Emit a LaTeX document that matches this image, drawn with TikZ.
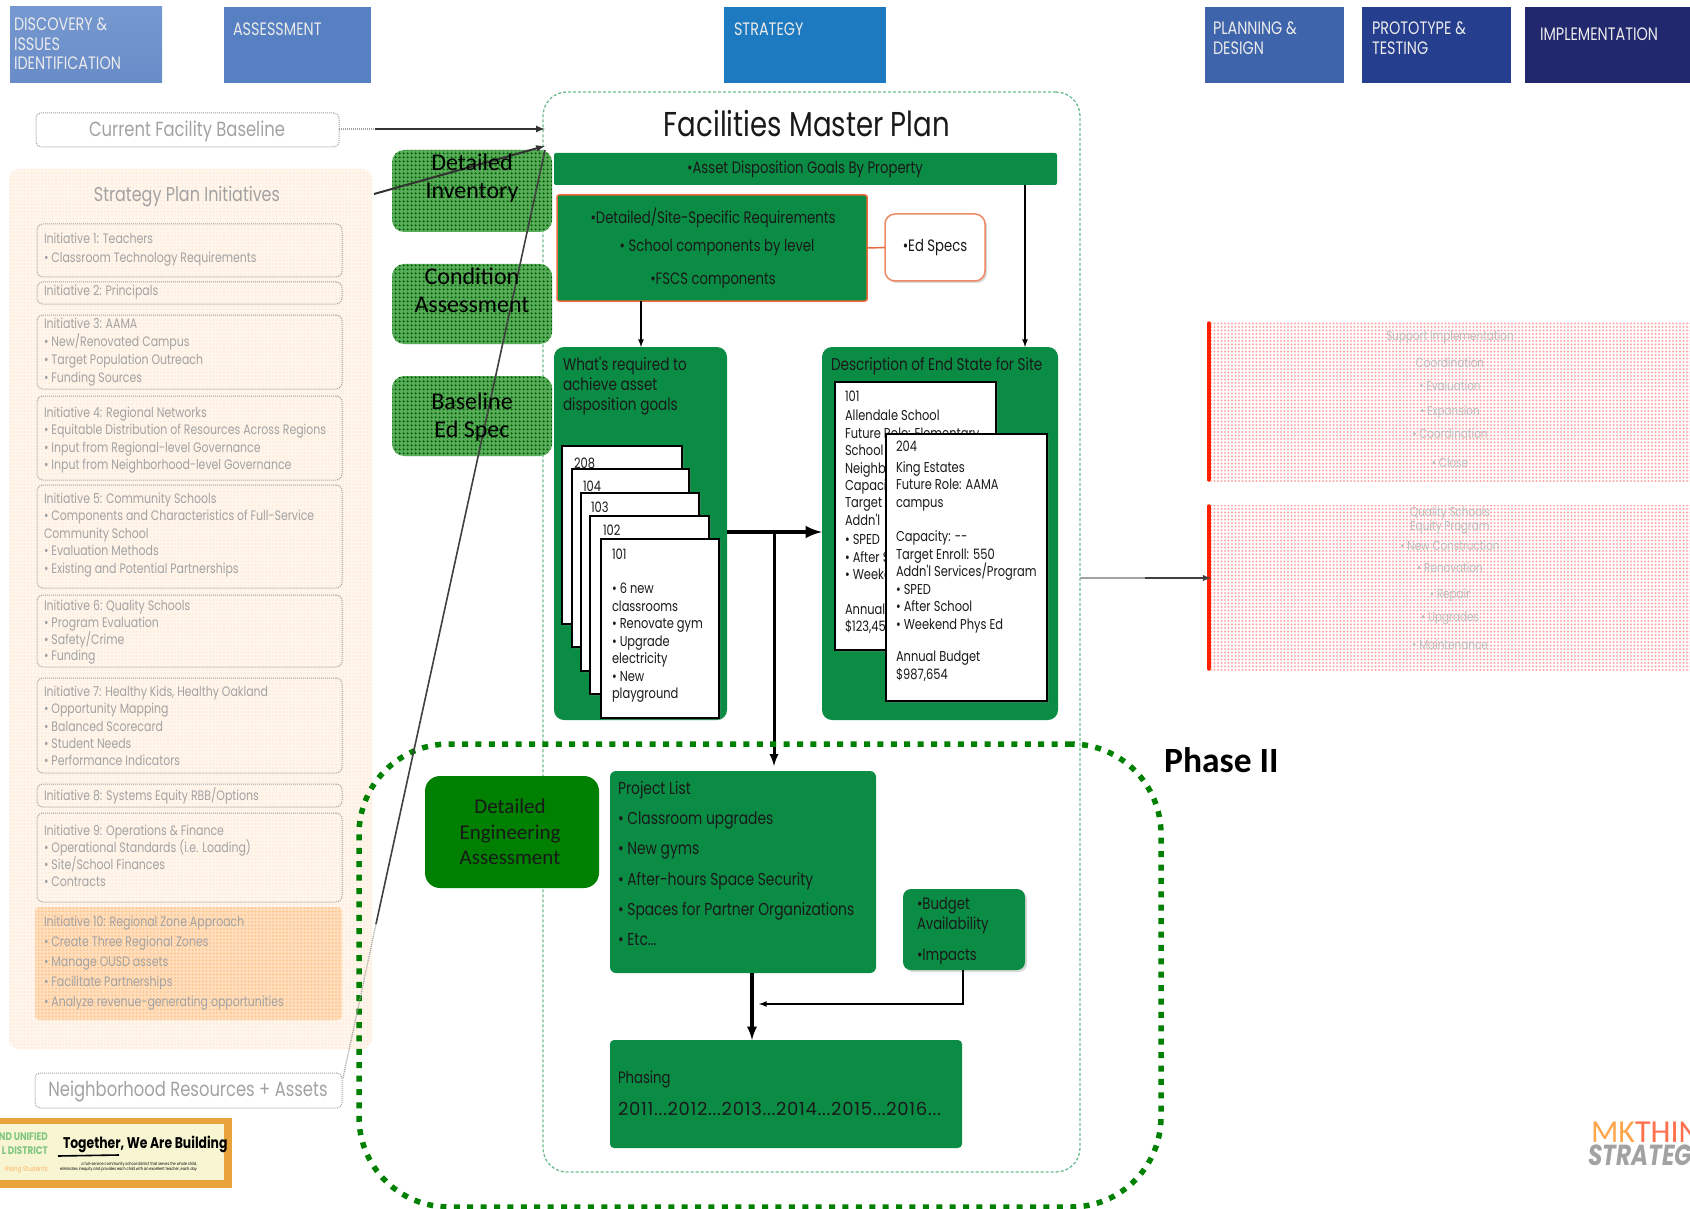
\documentclass[tikz,border=0pt]{standalone}
\usepackage{fontspec}
\usetikzlibrary{shadows,patterns.meta}
\newfontfamily\futura[FakeStretch=0.8]{Poppins}
\newfontfamily\futwide[LetterSpace=4]{Poppins}
\newfontfamily\calib{Carlito}
\newcommand{\fs}[2]{\fontsize{#1}{#2}\selectfont}
\definecolor{grn}{HTML}{0B8C45}
\definecolor{dkgrn}{HTML}{008000}
\definecolor{org}{HTML}{EA6A3E}
\definecolor{fade}{HTML}{A2A2A2}
\tikzset{
  sq/.style={anchor=north west,inner sep=0pt,outer sep=0pt},
  head/.style={sq,text=white!92!black,font=\futura\fs{18}{19.5},align=left},
  panel/.style={sq,fill=grn,rounded corners=10pt},
  card/.style={sq,fill=white,draw=black,line width=1.2pt,drop shadow={opacity=.3,shadow xshift=2pt,shadow yshift=-2pt}},
  cardtxt/.style={sq,align=left,text=black!90,font=\futura\fs{14.3}{17.5}},
  grntxt/.style={sq,align=left,text=black!90,font=\futura\fs{#1}{20}},
  ctr/.style={inner sep=0pt,text=black!90,font=\futura\fs{16.5}{20}},
  initbox/.style={sq,draw=fade,line width=1pt,dash pattern=on 1pt off 1pt,rounded corners=6pt},
  initxt/.style={sq,align=left,text=fade,font=\futura\fs{13.7}{#1}},
  stipgrn/.style={sq,rounded corners=12pt,preaction={fill=green!50!black!65},pattern={Dots[distance=4pt,radius=1.5pt]},pattern color=green!38!black},
  stiptxt/.style={inner sep=0pt,text=black,font=\calib\fs{24}{28},align=center},
  pinktxt/.style={inner sep=0pt,text=fade!70,font=\futura\fs{13}{16},align=center},
  faded/.style={draw=fade,line width=1.3pt,dash pattern=on 1pt off 1pt}
}
\begin{document}
\begin{tikzpicture}[x=1pt,y=-1pt,>=latex]
\useasboundingbox (0,0) rectangle (1690,1209);

% headers
\node[sq,minimum width=152pt,minimum height=76pt,top color={rgb,255:red,118;green,152;blue,208},bottom color={rgb,255:red,104;green,140;blue,200}] (discovery) at (10,7) {};
\node[sq,minimum width=147pt,minimum height=76pt,fill={rgb,255:red,86;green,128;blue,194}] (assess) at (224,7) {};
\node[sq,minimum width=162pt,minimum height=76pt,fill={rgb,255:red,30;green,122;blue,192}] (strategy) at (724,7) {};
\node[sq,minimum width=139pt,minimum height=76pt,fill={rgb,255:red,62;green,100;blue,172}] (planning) at (1205,7) {};
\node[sq,minimum width=149pt,minimum height=76pt,fill={rgb,255:red,38;green,62;blue,142}] (proto) at (1362,7) {};
\node[sq,minimum width=165pt,minimum height=76pt,fill={rgb,255:red,34;green,40;blue,110}] (implement) at (1525,7) {};
\node[head] (discoverytxt) at (14,18) {DISCOVERY \&\\ISSUES\\IDENTIFICATION};
\node[head] (assesstxt) at (233,23) {ASSESSMENT};
\node[head] (strategytxt) at (734,23) {STRATEGY};
\node[head] (planningtxt) at (1213,22) {PLANNING \&\\DESIGN};
\node[head] (prototxt) at (1372,22) {PROTOTYPE \&\\TESTING};
\node[head] (implementtxt) at (1540,28) {IMPLEMENTATION};

% left column
\node[sq,minimum width=303pt,minimum height=34pt,draw=fade,line width=1pt,dash pattern=on 1pt off 1pt,rounded corners=5pt] (baseline) at (36,113) {};
\node[text=fade,font=\futura\fs{20.5}{22},inner sep=0pt] (baselinetxt) at (187,131) {Current Facility Baseline};
\node[sq,minimum width=363pt,minimum height=880pt,rounded corners=10pt,preaction={fill=orange!7},pattern={Dots[distance=3.5pt,radius=1.2pt]},pattern color=orange!14] (initiatives) at (9,169) {};
\node[text=fade,font=\futura\fs{20}{22},inner sep=0pt] (initiativestxt) at (187,197) {Strategy Plan Initiatives};

\node[initbox,minimum width=305pt,minimum height=53pt] (init1) at (37,224) {};
\node[initbox,minimum width=305pt,minimum height=22pt] (init2) at (37,282) {};
\node[initbox,minimum width=305pt,minimum height=74pt] (init3) at (37,315) {};
\node[initbox,minimum width=305pt,minimum height=84pt] (init4) at (37,396) {};
\node[initbox,minimum width=305pt,minimum height=103pt] (init5) at (37,485) {};
\node[initbox,minimum width=305pt,minimum height=72pt] (init6) at (37,595) {};
\node[initbox,minimum width=305pt,minimum height=95pt] (init7) at (37,678) {};
\node[initbox,minimum width=305pt,minimum height=23pt] (init8) at (37,784) {};
\node[initbox,minimum width=305pt,minimum height=89pt] (init9) at (37,813) {};
\node[sq,minimum width=307pt,minimum height=113pt,rounded corners=4pt,preaction={fill=orange!25},pattern={Dots[distance=3.5pt,radius=1.2pt]},pattern color=orange!45] (init10) at (35,907) {};

\node[initxt=19] (init1txt) at (44,233) {Initiative 1: Teachers\\• Classroom Technology Requirements};
\node[initxt=17] (init2txt) at (44,285) {Initiative 2: Principals};
\node[initxt=18] (init3txt) at (44,318) {Initiative 3: AAMA\\• New/Renovated Campus\\• Target Population Outreach\\• Funding Sources};
\node[initxt=17.5] (init4txt) at (44,407) {Initiative 4: Regional Networks\\• Equitable Distribution of Resources Across Regions\\• Input from Regional-level Governance\\• Input from Neighborhood-level Governance};
\node[initxt=17.5] (init5txt) at (44,493) {Initiative 5: Community Schools\\• Components and Characteristics of Full-Service\\Community School\\• Evaluation Methods\\• Existing and Potential Partnerships};
\node[initxt=16.8] (init6txt) at (44,600) {Initiative 6: Quality Schools\\• Program Evaluation\\• Safety/Crime\\• Funding};
\node[initxt=17.3] (init7txt) at (44,686) {Initiative 7: Healthy Kids, Healthy Oakland\\• Opportunity Mapping\\• Balanced Scorecard\\• Student Needs\\• Performance Indicators};
\node[initxt=17] (init8txt) at (44,788) {Initiative 8: Systems Equity RBB/Options};
\node[initxt=17] (init9txt) at (44,825) {Initiative 9: Operations \& Finance\\• Operational Standards (i.e. Loading)\\• Site/School Finances\\• Contracts};
\node[initxt=20] (init10txt) at (44,916) {Initiative 10: Regional Zone Approach\\• Create Three Regional Zones\\• Manage OUSD assets\\• Facilitate Partnerships\\• Analyze revenue-generating opportunities};

\node[sq,minimum width=307pt,minimum height=35pt,draw=fade,line width=1pt,dash pattern=on 1pt off 1pt,rounded corners=5pt] (assets) at (35,1073) {};
\node[text=fade,font=\futura\fs{20.5}{24},inner sep=0pt] (assetstxt) at (188,1091) {Neighborhood Resources + Assets};

% banner
\node[sq,minimum width=232pt,minimum height=70pt,fill={rgb,255:red,232;green,163;blue,61}] (banner) at (0,1118) {};
\node[sq,minimum width=224pt,minimum height=56pt,fill={rgb,255:red,248;green,246;blue,210}] (bannerin) at (0,1124) {};
\node[anchor=north east,inner sep=0pt,text=green!55!black!50,font=\futura\bfseries\fs{11}{14},align=right] (bannerl) at (48,1133) {ND UNIFIED\\L DISTRICT};
\node[anchor=north east,inner sep=0pt,text=orange!60,font=\futura\fs{7}{9}] (bannerm) at (48,1166) {Rising Students};
\node[sq,text=black,font=\futura\bfseries\fs{15.5}{18}] (together) at (63,1136) {Together, We Are Building};
\coordinate (underl) at (58,1156);
\coordinate (underr) at (119,1155);
\draw[line width=1.6pt] (underl) -- (underr);
\node[sq,text=black,font=\futura\fs{4.3}{5.6},align=right] (togethersub) at (60,1162) {a full-service community school district that serves the whole child,\\eliminates inequity and provides each child with an excellent teacher, each day};

% logo
\node[sq,font=\calib\fs{32}{34}] (logomk) at (1591,1122) {\textcolor{orange!70}{MK}\textcolor{red!60!orange!70}{THIN}};
\node[sq,font=\futura\bfseries\itshape\fs{29}{30},text=fade] (logost) at (1588,1145) {STRATEG};

% master plan
\node[sq,minimum width=537pt,minimum height=1080pt,draw=grn!60,line width=1.3pt,dash pattern=on 3pt off 2pt,rounded corners=24pt] (plan) at (543,92) {};
\node[inner sep=0pt,text=black!90,font=\futura\fs{34.5}{40}] (plantitle) at (807,124) {Facilities Master Plan};
\node[panel,rounded corners=2pt,minimum width=503pt,minimum height=32pt] (goalbar) at (554,153) {};
\node[ctr] (goalbartxt) at (805,169) {•Asset Disposition Goals By Property};
\node[panel,rounded corners=2pt,minimum width=310pt,minimum height=106pt,draw=org,line width=1.5pt] (detail) at (557,195) {};
\node[ctr] (detail1) at (713,218) {•Detailed/Site-Specific Requirements};
\node[ctr] (detail2) at (717,248) {• School components by level};
\node[ctr] (detail3) at (713,281) {•FSCS components};
\node[sq,minimum width=100pt,minimum height=67pt,fill=white,draw=org!80,line width=1.5pt,rounded corners=10pt,drop shadow={opacity=.3,shadow xshift=2pt,shadow yshift=-2pt}] (edspecs) at (885,214) {};
\node[ctr] (edspecstxt) at (935,248) {•Ed Specs};
\draw[draw=org,line width=1.5pt] (detail.east) -- (edspecs.west);

\node[panel,minimum width=173pt,minimum height=373pt] (goals) at (554,347) {};
\node[panel,minimum width=236pt,minimum height=373pt] (endstate) at (822,347) {};
\node[grntxt=17] (goalstxt) at (563,357) {What's required to\\achieve asset\\disposition goals};
\node[grntxt=17] (endstatetxt) at (831,358) {Description of End State for Site};

\coordinate (goalsin) at (641,347);
\coordinate (endin) at (1025,347);
\draw[->,line width=1.6pt] (goalsin |- detail.south) -- (goalsin);
\draw[->,line width=1.6pt] (endin |- goalbar.south) -- (endin);

% stacked cards
\node[card,minimum width=120pt,minimum height=178pt] (c208) at (562,446) {};
\node[cardtxt] (c208txt) at (574,458) {208};
\node[card,minimum width=117pt,minimum height=178pt] (c104) at (572,469) {};
\node[cardtxt] (c104txt) at (583,481) {104};
\node[card,minimum width=118pt,minimum height=178pt] (c103) at (581,493) {};
\node[cardtxt] (c103txt) at (591,502) {103};
\node[card,minimum width=119pt,minimum height=178pt] (c102) at (590,516) {};
\node[cardtxt] (c102txt) at (603,525) {102};
\node[card,minimum width=118pt,minimum height=179pt] (c101) at (601,539) {};
\node[cardtxt] (c101txt) at (612,549) {101};
\node[cardtxt] (c101lst) at (612,583) {• 6 new\\classrooms\\• Renovate gym\\• Upgrade\\electricity\\• New\\playground};

\node[card,minimum width=161pt,minimum height=268pt] (s101) at (835,382) {};
\node[cardtxt] (s101txt) at (845,391) {101\\[1.5pt]Allendale School\\Future Role: Elementary\\School\\Neighborhood\\Capacity\\Target\\Addn'l\\[2pt]• SPED\\• After School\\• Weekend Phys Ed\\[17pt]Annual Budget\\\$123,456};
\node[card,minimum width=161pt,minimum height=267pt] (s204) at (886,434) {};
\node[cardtxt] (s204txt) at (896,441) {204\\[3pt]King Estates\\Future Role: AAMA\\campus\\[17pt]Capacity: --\\Target Enroll: 550\\Addn'l Services/Program\\• SPED\\• After School\\• Weekend Phys Ed\\[15pt]Annual Budget\\\$987,654};

% flow out of the cards
\coordinate (split) at (774,532);
\coordinate (listin) at (774,766);
\draw[line width=4.5pt] (goals.east |- split) -- (split);
\draw[->,line width=4.5pt] (split) -- (endstate.west |- split);
\draw[->,line width=3pt] (split) -- (listin);

% phase two
\node[sq,minimum width=802pt,minimum height=463pt,draw=dkgrn,line width=5.5pt,dash pattern=on 6pt off 7.4pt,rounded corners=90pt] (phase) at (359,744) {};
\node[anchor=west,inner sep=0pt,font=\calib\bfseries\fs{35.5}{38},text=black] (phasetxt) at (1164,760) {Phase II};
\node[sq,minimum width=174pt,minimum height=112pt,fill=dkgrn,rounded corners=15pt] (engineer) at (425,776) {};
\node[inner sep=0pt,align=center,font=\calib\fs{21}{25.5},text=black!90] (engineertxt) at (510,832) {Detailed\\Engineering\\Assessment};

\node[panel,rounded corners=6pt,minimum width=266pt,minimum height=202pt] (projects) at (610,771) {};
\node[sq,align=left,text=black!90,font=\futura\fs{17.3}{30.3}] (projectstxt) at (618,781) {Project List\\• Classroom upgrades\\• New gyms\\• After-hours Space Security\\• Spaces for Partner Organizations\\• Etc...};
\node[panel,rounded corners=8pt,minimum width=122pt,minimum height=81pt,drop shadow={opacity=.3,shadow xshift=2pt,shadow yshift=-2pt}] (budget) at (903,889) {};
\node[sq,align=left,text=black!90,font=\futura\fs{16.5}{20.5}] (budgettxt) at (917,897) {•Budget\\Availability\\[10pt]•Impacts};
\node[panel,rounded corners=4pt,minimum width=352pt,minimum height=108pt] (phasing) at (610,1040) {};
\node[sq,align=left,text=black!90,font=\futura\fs{16.5}{32}] (phasingtxt) at (618,1071) {Phasing\\{\futwide\fs{18}{32}2011...2012...2013...2014...2015...2016...}};

\coordinate (listout) at (752,973);
\coordinate (budgetout) at (963,970);
\coordinate (budgetelbow) at (963,1004);
\coordinate (budgetin) at (759,1004);
\draw[->,line width=3.5pt] (listout) -- (listout |- phasing.north);
\draw[->,line width=1.6pt] (budgetout) -- (budgetelbow) -- (budgetin);

% stippled boxes, the feeds run over them
\node[stipgrn,minimum width=160pt,minimum height=82pt] (inventory) at (392,150) {};
\node[stipgrn,minimum width=160pt,minimum height=80pt] (condition) at (392,264) {};
\node[stipgrn,minimum width=160pt,minimum height=80pt] (edspec) at (392,376) {};

% long feeds into the plan
\coordinate (feed1) at (375,129);
\coordinate (feed1end) at (545,129);
\coordinate (feed2) at (374,194);
\coordinate (feed2end) at (545,146);
\coordinate (feed3) at (343,1078);
\coordinate (feed3mid) at (376,924);
\coordinate (feed3end) at (545,150);
\draw[faded] (baseline.east |- feed1) -- (feed1);
\draw[->,line width=2pt,black!80] (feed1) -- (feed1end);
\draw[->,line width=2pt,black!80] (feed2) -- (feed2end);
\draw[faded] (feed3) -- (feed3mid);
\draw[line width=1.6pt,black!75] (feed3mid) -- (feed3end);

\node[stiptxt] (inventorytxt) at (472,178) {Detailed\\Inventory};
\node[stiptxt] (conditiontxt) at (472,290) {Condition\\Assessment};
\node[stiptxt] (edspectxt) at (472,417) {Baseline\\Ed Spec};

% right hand panels
\node[sq,minimum width=479pt,minimum height=159pt,pattern={Dots[distance=3.5pt,radius=1.15pt]},pattern color=red!35] (support) at (1211,322) {};
\node[sq,minimum width=479pt,minimum height=165pt,pattern={Dots[distance=3.5pt,radius=1.15pt]},pattern color=red!35] (quality) at (1211,505) {};
\draw[draw=red!75!orange,line width=3.5pt,line cap=round] ([xshift=-2pt,yshift=-1pt]support.north west) -- ([xshift=-2pt,yshift=1pt]support.south west);
\draw[draw=red!75!orange,line width=3.5pt,line cap=round] ([xshift=-2pt,yshift=-1pt]quality.north west) -- ([xshift=-2pt,yshift=1pt]quality.south west);
\node[pinktxt] (sup1) at (1450,337) {Support Implementation};
\node[pinktxt] (sup2) at (1450,363) {Coordination};
\node[pinktxt] (sup3) at (1450,386) {• Evaluation};
\node[pinktxt] (sup4) at (1450,412) {• Expansion};
\node[pinktxt] (sup5) at (1450,434) {• Coordination};
\node[pinktxt] (sup6) at (1450,463) {• Close};
\node[pinktxt,font=\futura\fs{13}{13}] (qua1) at (1450,520) {Quality Schools\\Equity Program};
\node[pinktxt] (qua2) at (1450,546) {• New Construction};
\node[pinktxt] (qua3) at (1450,568) {• Renovation};
\node[pinktxt] (qua4) at (1450,595) {• Repair};
\node[pinktxt] (qua5) at (1450,618) {• Upgrades};
\node[pinktxt] (qua6) at (1450,645) {• Maintenance};

\coordinate (planout) at (1145,578);
\draw[line width=2pt,fade] (plan.east |- planout) -- (planout);
\draw[->,line width=1.8pt,black!75] (planout) -- (support.west |- planout);
\end{tikzpicture}
\end{document}
